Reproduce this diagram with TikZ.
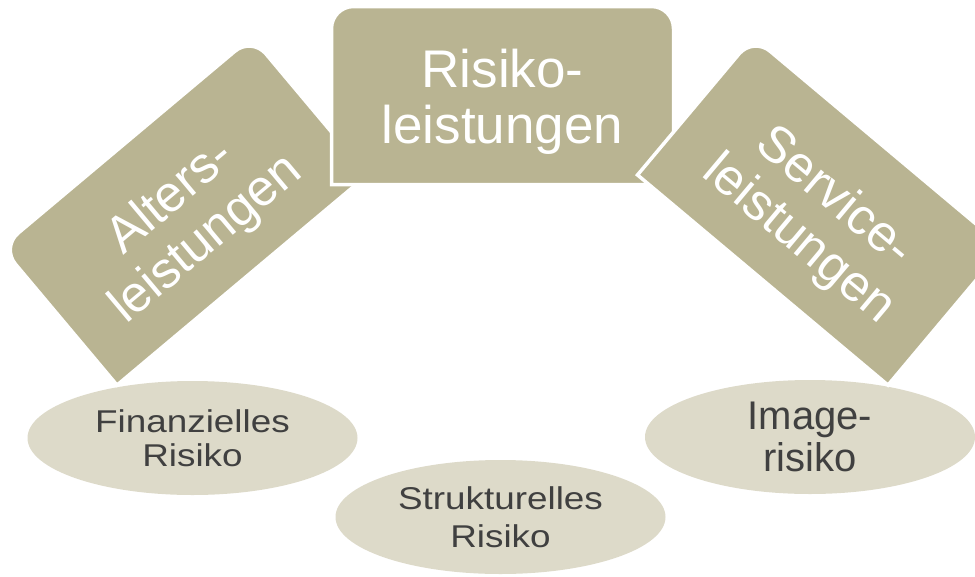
\documentclass[tikz,border=0pt]{standalone}
\usepackage{fontspec}
\setmainfont{Liberation Sans}
\newfontfamily\widesans[FakeStretch=1.17]{Liberation Sans}
\usetikzlibrary{shapes.geometric}
\definecolor{tagolive}{HTML}{B9B492}
\definecolor{ovalbeige}{HTML}{DDDAC9}
\definecolor{ovalink}{HTML}{404040}
\begin{document}
\begin{tikzpicture}[x=1pt,y=-1pt,
  tagfill/.style={fill=tagolive, draw=white, line width=3.5pt},
  tagtext/.style={text=white, align=center, inner sep=0pt,
    font=\fontsize{51}{55}\selectfont},
  oval/.style={ellipse, fill=ovalbeige, text=ovalink, align=center,
    inner sep=0pt, minimum width=330pt, minimum height=114pt},
  % rectangle with its two upper corners rounded, centred on the origin
  pics/tagbox/.style 2 args={code={
    \filldraw[tagfill] (-#1,#2) -- (-#1,-#2+22)
      arc[start angle=180, end angle=270, radius=22] -- (#1-22,-#2)
      arc[start angle=270, end angle=360, radius=22] -- (#1,#2) -- cycle;
  }}
]
\useasboundingbox (0,0) rectangle (975,576);
\clip (0,0) rectangle (975,576);

% risk ovals
\node[oval, font=\widesans\fontsize{31.5}{34}\selectfont] (finrisk) at (192.5,438) {Finanzielles\\Risiko};
\node[oval, font=\widesans\fontsize{31.5}{38.5}\selectfont] (strukrisk) at (500.5,517) {Strukturelles\\Risiko};
\node[oval, font=\fontsize{40}{42}\selectfont] (imgrisk) at (810,437) {Image-\\risiko};

% benefit tags
\pic[rotate=40] at (184.4,211.1) {tagbox={163.5}{90}};
\node[tagtext, rotate=40] (alters) at (189,219) {Alters-\\leistungen};

\pic at (502.5,95.5) {tagbox={171}{89}};
\node[tagtext, font=\fontsize{53}{56}\selectfont] (risiko) at (502.5,102) {Risiko-\\leistungen};

\pic[rotate=-40] at (820.6,211.1) {tagbox={163.5}{90}};
\node[tagtext, rotate=-40] (service) at (816,219) {Service-\\leistungen};
\end{tikzpicture}
\end{document}
